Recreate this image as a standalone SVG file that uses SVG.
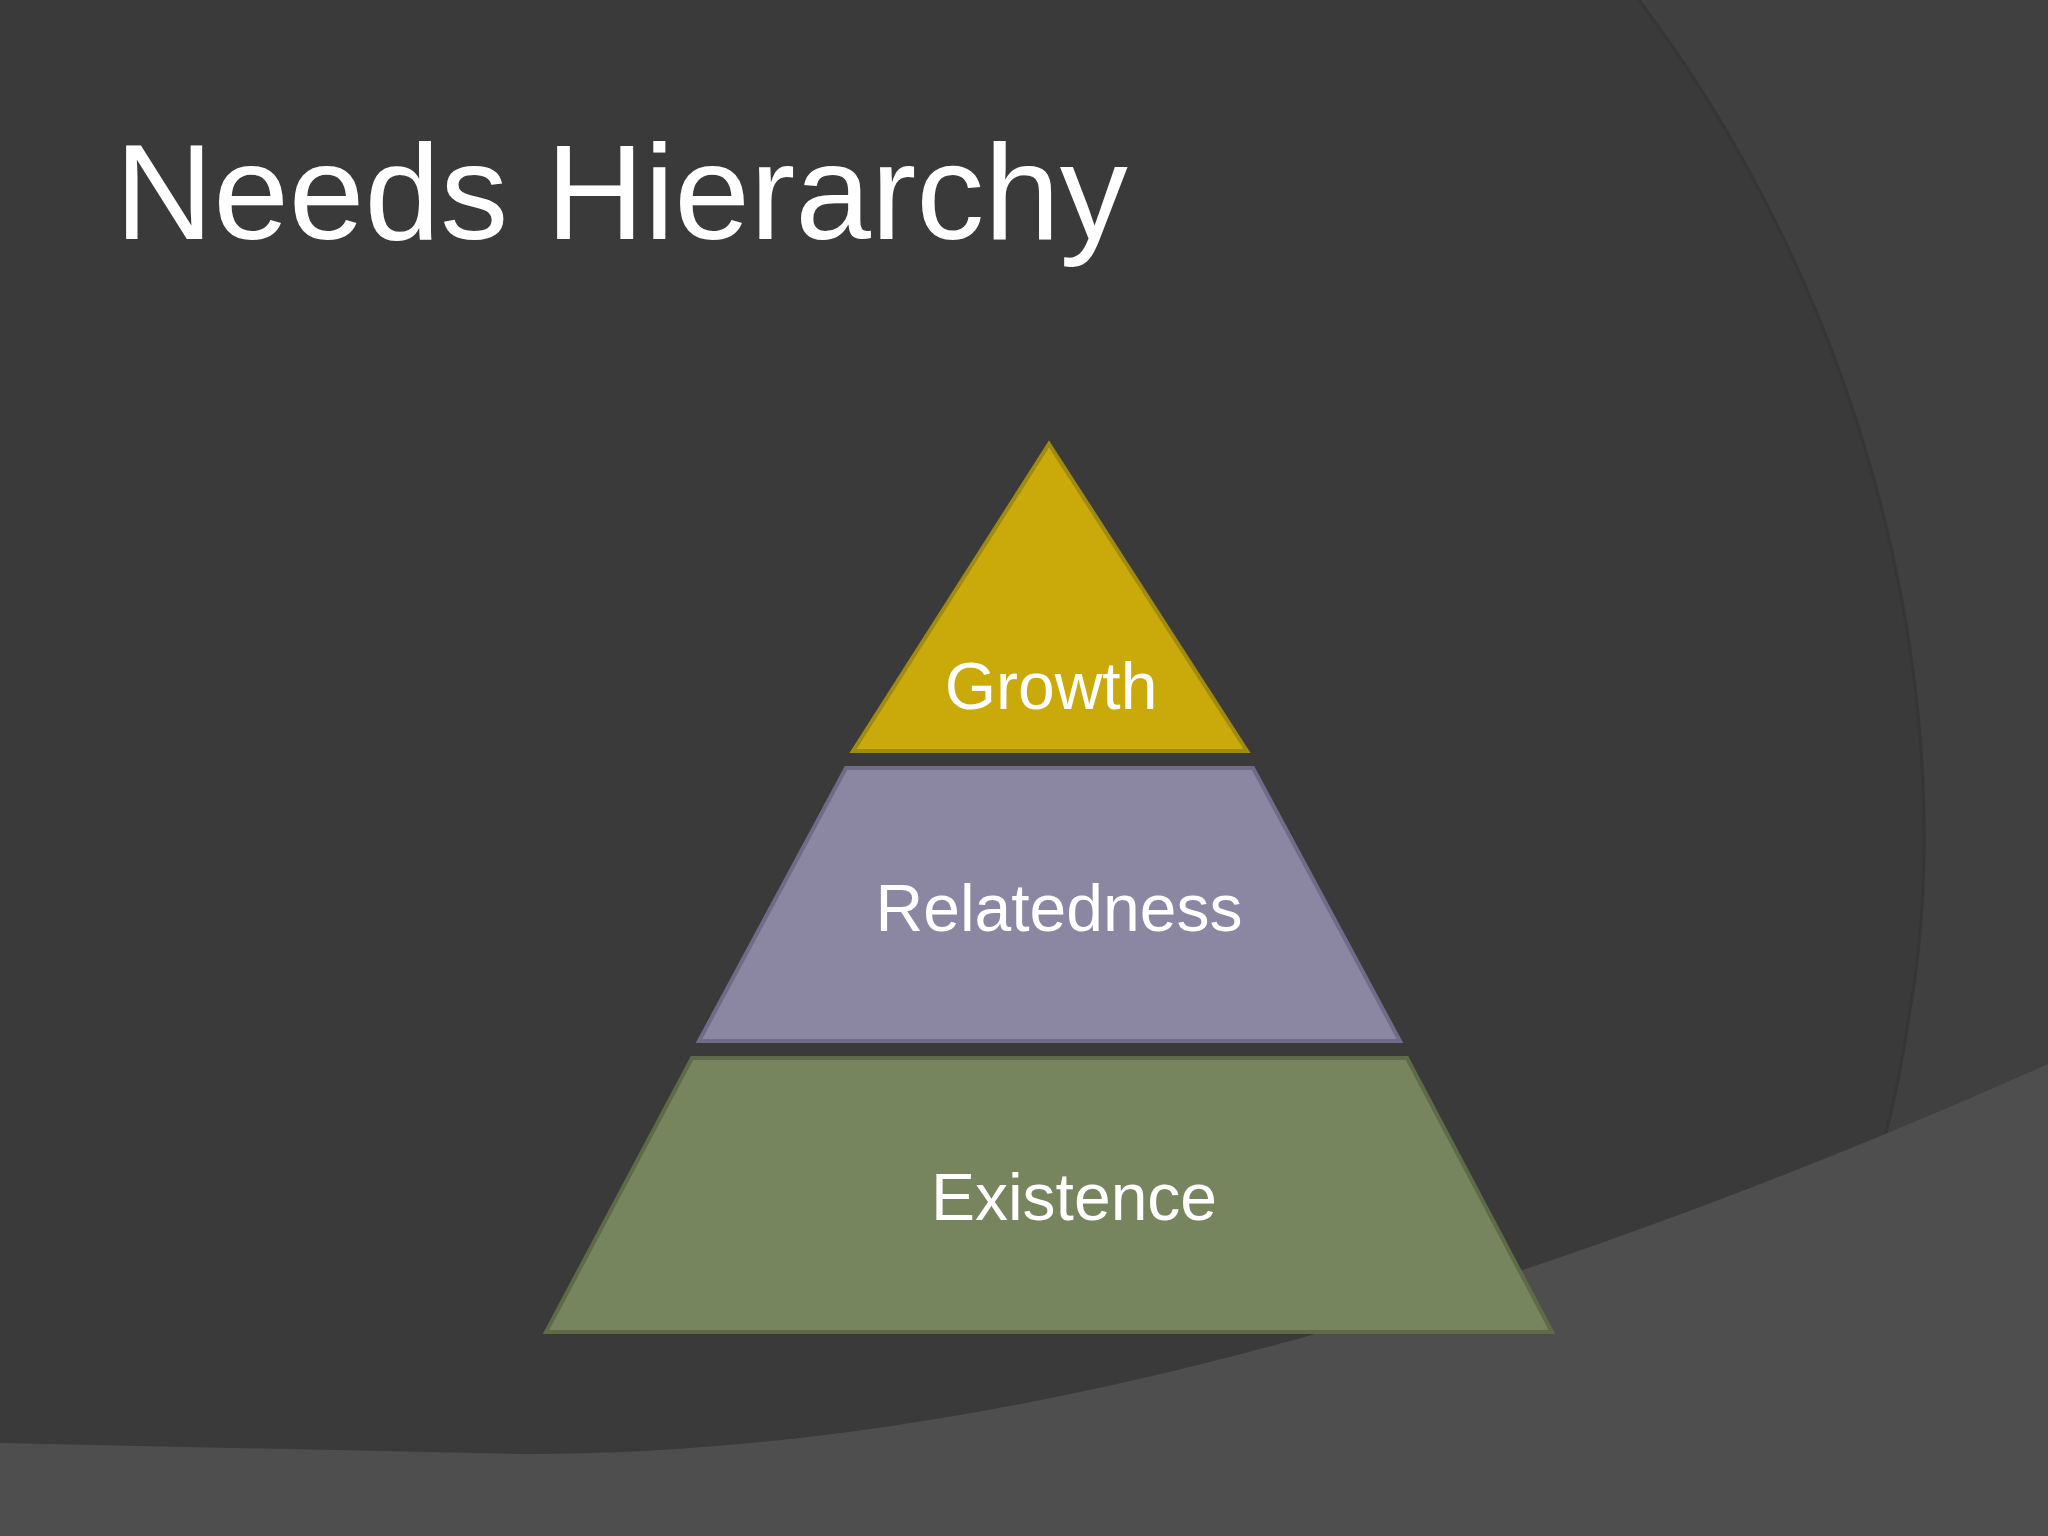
<svg xmlns="http://www.w3.org/2000/svg" width="2048" height="1536" viewBox="0 0 2048 1536">
<style>
.lbl{font-family:"Liberation Sans",Arial,sans-serif;fill:#fff;text-anchor:middle}
</style>
<rect width="2048" height="1536" fill="#3a3a3a"/>
<path d="M1639,0 C1880,320 1960,720 1910,1010 C1880,1220 1800,1400 1700,1536 L2048,1536 L2048,0Z" fill="#404040"/>
<path d="M1639,0 C1880,320 1960,720 1910,1010 C1880,1220 1800,1400 1700,1536" fill="none" stroke="#363636" stroke-width="3"/>
<path d="M0,1443 L522,1454 C950,1455 1450,1330 2048,1064 L2048,1536 L0,1536Z" fill="#4e4e4e"/>
<text x="115" y="239" font-family="Liberation Sans,Arial,sans-serif" font-size="136" fill="#fff">Needs Hierarchy</text>
<g id="growth">
<polygon points="1049,444 1247,751 853,751" fill="#c9aa0a" stroke="#a08a10" stroke-width="4"/>
<text class="lbl" x="1051" y="709" font-size="66">Growth</text>
</g>
<g id="relatedness">
<polygon points="846,768 1253,768 1400,1041 699,1041" fill="#8b87a3" stroke="#6f6b88" stroke-width="4"/>
<text class="lbl" x="1059" y="931" font-size="66">Relatedness</text>
</g>
<g id="existence">
<polygon points="692,1058 1407,1058 1552,1332 546,1332" fill="#76855e" stroke="#5e6b48" stroke-width="4"/>
<text class="lbl" x="1074" y="1220" font-size="66">Existence</text>
</g>
<g id="connectors"/>
</svg>
